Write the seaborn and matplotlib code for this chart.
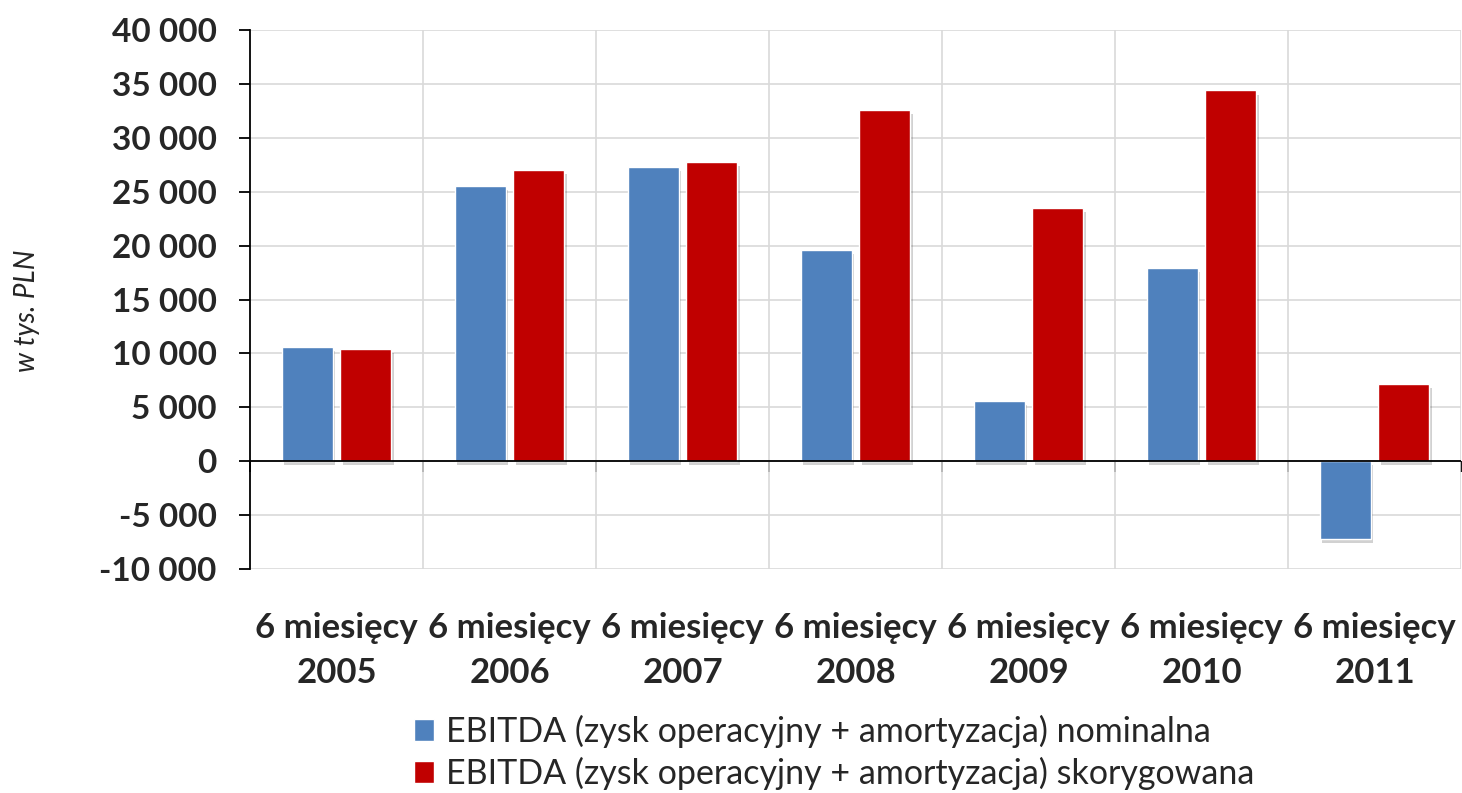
import matplotlib
matplotlib.use("Agg")
import matplotlib.pyplot as plt
import matplotlib.patheffects as pe
from matplotlib.ticker import FuncFormatter, MultipleLocator, FixedLocator
import pandas as pd
import seaborn as sns

# dane (w tys. PLN)
years    = ["2005", "2006", "2007", "2008", "2009", "2010", "2011"]
periods  = [f"6 miesięcy\n{y}" for y in years]
nominal  = [10600, 25500, 27300, 19600, 5600, 17900, -7200]
adjusted = [10400, 27000, 27800, 32600, 23500, 34400, 7200]
series   = ["EBITDA (zysk operacyjny + amortyzacja) nominalna",
            "EBITDA (zysk operacyjny + amortyzacja) skorygowana"]
colors   = ["#4F81BD", "#C00000"]
y_min, y_max, y_step = -10000, 40000, 5000

df = pd.DataFrame({
    "okres":   periods * 2,
    "wartosc": nominal + adjusted,
    "seria":   [series[0]] * len(periods) + [series[1]] * len(periods),
})

sns.set_theme(style="white")
plt.rcParams["font.family"] = ["Lato", "DejaVu Sans"]

fig = plt.figure(figsize=(14.62, 7.93), dpi=100)
ax = fig.add_axes([250 / 1462, 1 - 569 / 793, 1211 / 1462, 539 / 793])

sns.barplot(data=df, x="okres", y="wartosc", hue="seria", palette=colors,
            width=0.68, gap=0.13, saturation=1, errorbar=None, ax=ax)

for p in ax.patches:
    p.set_path_effects([pe.SimplePatchShadow(offset=(2, -3), shadow_rgbFace="k", alpha=0.2),
                        pe.Normal()])

ax.set_xlim(-0.5, len(periods) - 0.5)
ax.set_ylim(y_min, y_max)
ax.yaxis.set_major_locator(MultipleLocator(y_step))
ax.yaxis.set_major_formatter(FuncFormatter(lambda v, _: f"{v:,.0f}".replace(",", " ")))
ax.xaxis.set_minor_locator(FixedLocator([i + 0.5 for i in range(len(periods))]))

ax.set_axisbelow(True)
ax.grid(axis="y", which="major", color="#d9d9d9", lw=1.2)
ax.grid(axis="x", which="minor", color="#d9d9d9", lw=1.2)

for s in ["top", "right", "bottom"]:
    ax.spines[s].set_visible(False)
ax.spines["left"].set_color("black")
ax.spines["left"].set_linewidth(1.3)
ax.axhline(0, color="black", lw=1.3)

# male kreski na osi zero miedzy kategoriami
zero_frac = (0 - y_min) / (y_max - y_min)
sec = ax.secondary_xaxis(zero_frac)
sec.set_xticks([i - 0.5 for i in range(len(periods) + 1)])
sec.tick_params(axis="x", length=8, width=1.3, color="black", labelbottom=False, direction="out")
sec.spines["bottom"].set_visible(False)

ax.tick_params(axis="y", length=8, width=1.3, color="black", direction="out",
               left=True, labelsize=24, pad=16)
ax.tick_params(axis="x", which="both", length=0, labelsize=25, pad=31)
for lbl in ax.get_yticklabels():
    lbl.set_fontweight("bold")
for lbl in ax.get_xticklabels():
    lbl.set_fontweight("bold")
    lbl.set_linespacing(1.5)

ax.set_xlabel("")
ax.set_ylabel("w tys. PLN", fontsize=20, fontstyle="italic")
ax.yaxis.set_label_coords(-0.173, 0.48)

handles, labels = ax.get_legend_handles_labels()
ax.get_legend().remove()
leg = fig.legend(handles, labels, loc="upper left", bbox_to_anchor=(414 / 1462, 1 - 715 / 793),
                 frameon=False, fontsize=24.5, handlelength=0.6, handleheight=0.6,
                 handletextpad=0.35, labelspacing=0.25, borderaxespad=0, borderpad=0)
for h in leg.legend_handles:
    h.set_path_effects([])

fig.savefig("out.png", dpi=100)
